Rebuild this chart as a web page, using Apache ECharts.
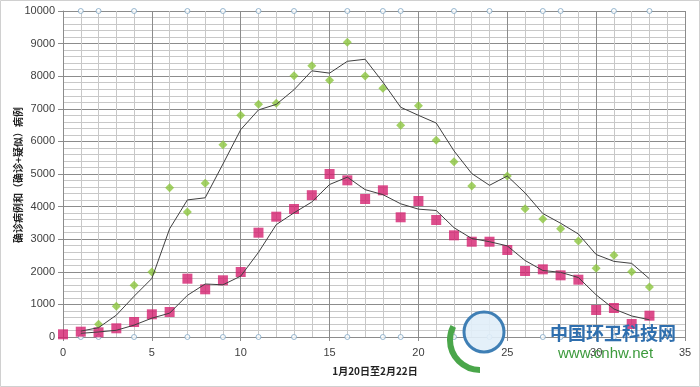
<!DOCTYPE html>
<html><head><meta charset="utf-8">
<script src="https://cdn.jsdelivr.net/npm/echarts@6/dist/echarts.min.js"></script>
<style>html,body{margin:0;padding:0;background:#fff}#c{width:700px;height:387px}</style>
</head><body><div id="c"></div>
<script>
const days = [0,1,2,3,4,5,6,7,8,9,10,11,12,13,14,15,16,17,18,19,20,21,22,23,24,25,26,27,28,29,30,31,32,33];
const confirmed = [83,163,144,267,460,696,767,1789,1463,1739,1994,3200,3691,3926,4350,5000,4806,4233,4500,3672,4172,3589,3119,2923,2923,2669,2025,2076,1892,1758,828,890,399,654];
const total = [null,null,389,941,1585,1994,4580,3834,4714,5899,6800,7138,7168,8015,8322,7874,9040,8006,7629,6494,7095,6033,5377,4632,null,4939,3937,3620,3322,2945,2107,2506,2003,1534];
const confirmedTrend = [null,113,154,206,364,578,732,1278,1626,1601,1867,2597,3446,3809,4141,4678,4903,4520,4367,4086,3922,3881,3354,3021,2923,2796,2347,2040,1984,1825,1293,859,645,527];
const totalTrend = [null,180,286,670,1250,1795,3320,4205,4270,5306,6360,6966,7135,7585,8165,8094,8457,8520,7818,7048,6800,6564,5710,5015,4653,4939,4420,3787,3490,3160,2530,2320,2258,1785];
const markerDays = [1,2,4,7,9,11,13,16,18,19,22,24,27,28,31,33];
const xTicks = [0,5,10,15,20,25,30,35];
const yTitle = '确诊病例和（确诊+疑似）病例';
const xTitle = '1月20日至2月22日';

const pairs = (arr) => days.map((d, i) => [d, arr[i]]);
const chart = echarts.init(document.getElementById('c'), null, {renderer: 'canvas'});
const lblFont = {color: '#404040', fontSize: 11, fontFamily: 'Liberation Sans, Arial, sans-serif'};
const ring = {color: '#ffffff', borderColor: '#7fa6c4', borderWidth: 1};
chart.setOption({
  animation: false,
  backgroundColor: '#fff',
  grid: {left: 63, right: 15, top: 11, bottom: 50},
  xAxis: {
    type: 'value', min: 0, max: 35, interval: 5,
    axisLine: {show: true, onZero: false, lineStyle: {color: '#8c8c8c'}},
    axisTick: {show: true, length: 4, lineStyle: {color: '#8c8c8c'}},
    axisLabel: Object.assign({margin: 10, formatter: v => xTicks.includes(v) ? String(v) : ''}, lblFont),
    splitLine: {show: true, lineStyle: {color: '#8c8c8c', width: 1}},
    minorTick: {show: false, splitNumber: 5},
    minorSplitLine: {show: true, lineStyle: {color: '#c8c8c8', width: 1}}
  },
  yAxis: {
    type: 'value', min: 0, max: 10000, interval: 1000,
    axisLine: {show: true, lineStyle: {color: '#8c8c8c'}},
    axisTick: {show: true, length: 5, lineStyle: {color: '#8c8c8c'}},
    axisLabel: Object.assign({margin: 8, formatter: v => String(v)}, lblFont),
    splitLine: {show: true, lineStyle: {color: '#8c8c8c', width: 1}},
    minorTick: {show: false, splitNumber: 5},
    minorSplitLine: {show: true, lineStyle: {color: '#c8c8c8', width: 1}}
  },
  series: [
    {type: 'scatter', data: markerDays.map(d => [d, 10000]), symbol: 'circle', symbolSize: 5, clip: false,
     itemStyle: ring, z: 3},
    {type: 'scatter', data: markerDays.map(d => [d, 0]), symbol: 'circle', symbolSize: 5, clip: false,
     itemStyle: ring, z: 3},
    {type: 'scatter', data: pairs(total).filter(p => p[1] != null), symbol: 'diamond', symbolSize: 9,
     itemStyle: {color: '#8cc63f'}, z: 4},
    {type: 'scatter', data: pairs(confirmed), symbol: 'rect', symbolSize: 10,
     itemStyle: {color: '#d4206f'}, z: 5},
    {type: 'line', data: pairs(totalTrend).filter(p => p[1] != null), symbol: 'none',
     lineStyle: {color: '#404040', width: 1}, z: 6},
    {type: 'line', data: pairs(confirmedTrend).filter(p => p[1] != null), symbol: 'none',
     lineStyle: {color: '#404040', width: 1}, z: 6}
  ],
  graphic: [
    {type: 'rect', shape: {x: 0.5, y: 0.5, width: 699, height: 386}, style: {fill: 'none', stroke: '#d0d0d0', lineWidth: 1}, z: -1, silent: true},
    {type: 'text', x: 18, y: 175, rotation: Math.PI / 2, style: {text: yTitle, fontSize: 10, fontWeight: 'bold', fill: '#222', fontFamily: 'Noto Sans CJK SC', textAlign: 'center', textVerticalAlign: 'middle'}},
    {type: 'text', x: 375, y: 371, style: {text: xTitle, fontSize: 10, fontWeight: 'bold', fill: '#222', fontFamily: 'Noto Sans CJK SC', textAlign: 'center', textVerticalAlign: 'middle'}},
    {type: 'arc', shape: {cx: 480, cy: 340, r: 30, startAngle: Math.PI * 0.5, endAngle: Math.PI * 1.15}, style: {stroke: '#4aa64a', lineWidth: 6, fill: 'none'}, z: 101},
    {type: 'circle', shape: {cx: 484, cy: 332, r: 20}, style: {fill: 'rgba(225,238,248,0.9)', stroke: '#3f7fb5', lineWidth: 3}, z: 100},
    {type: 'text', x: 550, y: 333, style: {text: '中国环卫科技网', fontSize: 18, fontWeight: 'bold', fill: '#2f6fae', fontFamily: 'Noto Sans CJK SC', textVerticalAlign: 'middle'}, z: 100},
    {type: 'text', x: 558, y: 354, style: {text: 'www.cnhw.net', fontSize: 15, fill: '#3c9a3c', fontFamily: 'Liberation Sans', textVerticalAlign: 'middle'}, z: 100}
  ]
});
</script></body></html>
